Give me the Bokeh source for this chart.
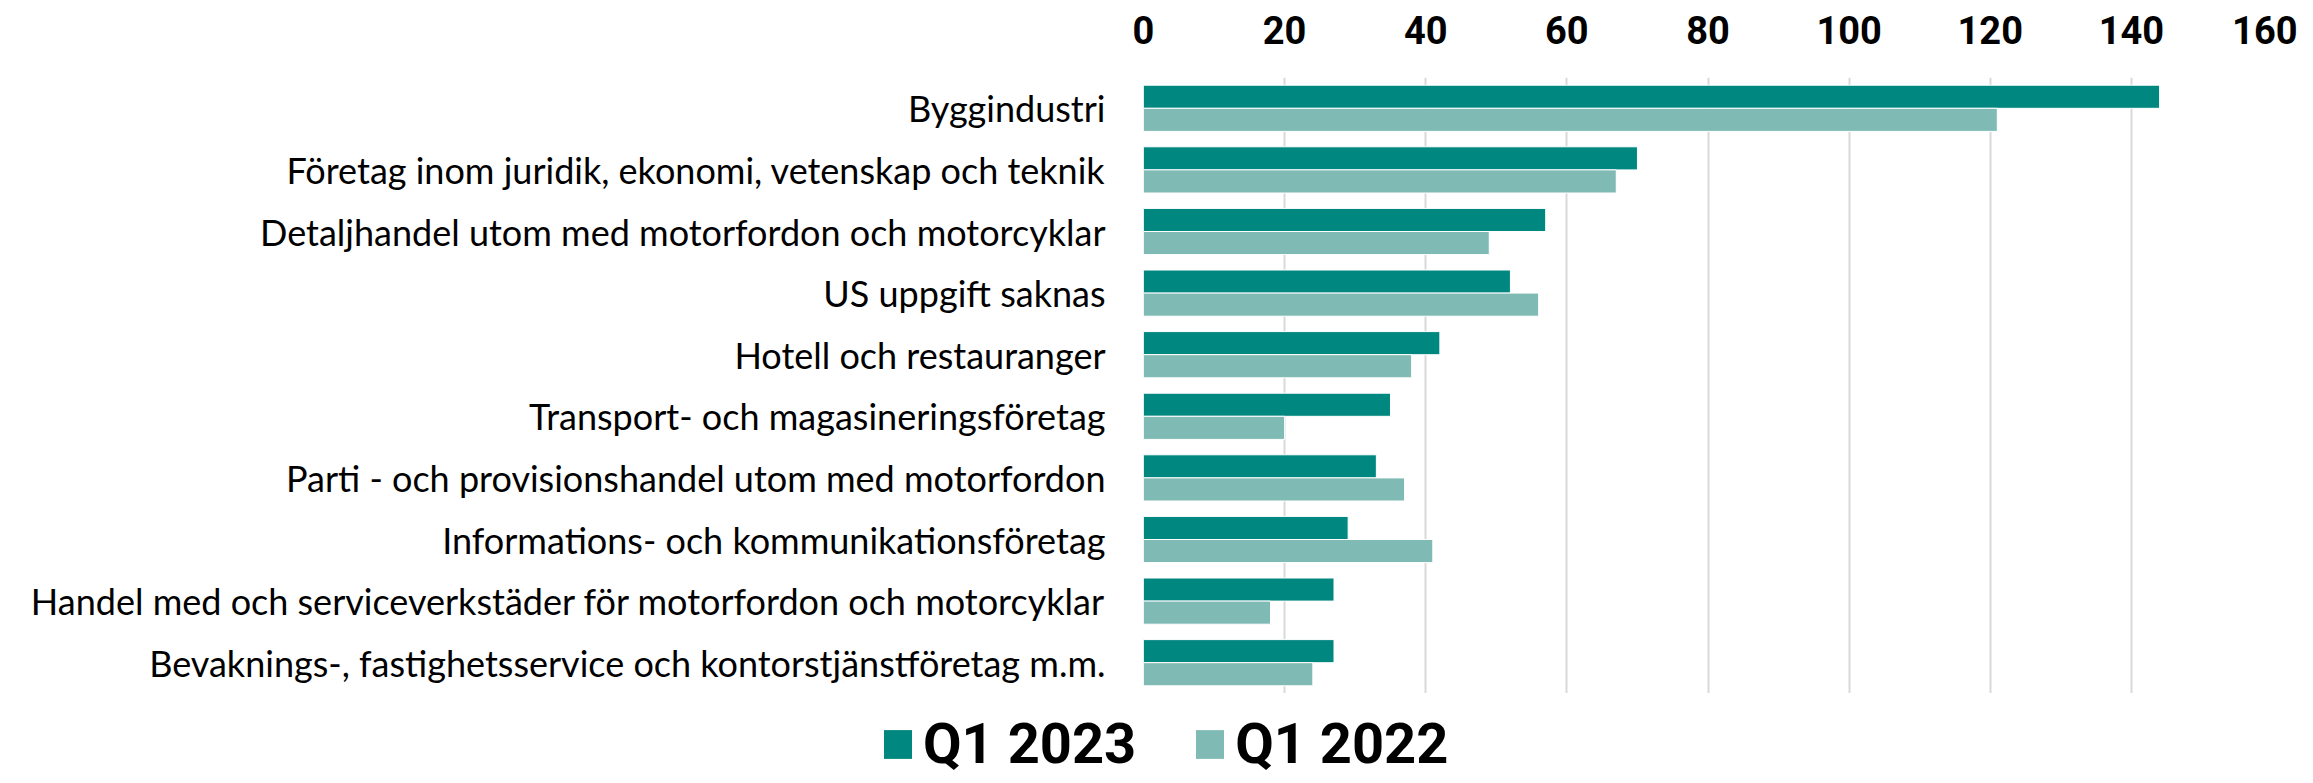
from bokeh.plotting import figure
from bokeh.layouts import column
from bokeh.models import (ColumnDataSource, FactorRange, Range1d, SingleIntervalTicker,
                          Legend, LegendItem)
from bokeh.transform import dodge
from bokeh.embed import file_html
from bokeh.resources import INLINE

categories = [
    "Byggindustri",
    "Företag inom juridik, ekonomi, vetenskap och teknik",
    "Detaljhandel utom med motorfordon och motorcyklar",
    "US uppgift saknas",
    "Hotell och restauranger",
    "Transport- och magasineringsföretag",
    "Parti - och provisionshandel utom med motorfordon",
    "Informations- och kommunikationsföretag",
    "Handel med och serviceverkstäder för motorfordon och motorcyklar",
    "Bevaknings-, fastighetsservice och kontorstjänstföretag m.m.",
]
q1_2023 = [144, 70, 57, 52, 42, 35, 33, 29, 27, 27]
q1_2022 = [121, 67, 49, 56, 38, 20, 37, 41, 18, 24]
series_names = ["Q1 2023", "Q1 2022"]
colors = ["#00877F", "#80BAB4"]

src = ColumnDataSource(dict(cat=categories, a=q1_2023, b=q1_2022))
bh = 0.375

# ---- main chart ----
p = figure(
    y_range=FactorRange(factors=list(reversed(categories))),
    x_range=Range1d(0, 160),
    x_axis_location="above",
    frame_width=1129, frame_height=616,
    min_border_left=1143, min_border_right=25,
    min_border_top=77, min_border_bottom=0,
    output_backend="svg", toolbar_location=None,
)

p.hbar(y=dodge("cat", bh / 2, range=p.y_range), right="a", left=0, height=bh,
       source=src, fill_color=colors[0], line_color="#ffffff", line_width=1)
p.hbar(y=dodge("cat", -bh / 2, range=p.y_range), right="b", left=0, height=bh,
       source=src, fill_color=colors[1], line_color="#ffffff", line_width=1)

p.outline_line_color = None
p.background_fill_color = "white"
p.border_fill_color = "white"

p.xaxis.ticker = SingleIntervalTicker(interval=20)
p.xaxis.axis_line_color = None
p.xaxis.major_tick_line_color = None
p.xaxis.minor_tick_line_color = None
p.xaxis.major_label_text_font = "Roboto"
p.xaxis.major_label_text_font_style = "bold"
p.xaxis.major_label_text_font_size = "38px"
p.xaxis.major_label_text_color = "#000000"
p.xaxis.major_label_standoff = 28

p.yaxis.axis_line_color = None
p.yaxis.major_tick_line_color = None
p.yaxis.minor_tick_line_color = None
p.yaxis.major_label_text_font = "Lato"
p.yaxis.major_label_text_font_size = "36px"
p.yaxis.major_label_text_color = "#000000"
p.yaxis.major_label_standoff = 32

p.xgrid.ticker = SingleIntervalTicker(interval=20)
p.xgrid.grid_line_color = "#d9d9d9"
p.xgrid.grid_line_width = 2
p.ygrid.grid_line_color = None

# ---- legend strip (bars drawn outside its visible x range) ----
lf = figure(
    y_range=FactorRange(factors=list(reversed(categories))),
    x_range=Range1d(-10, -5),
    x_axis_location=None, y_axis_location=None,
    width=2297, height=84,
    min_border=0,
    output_backend="svg", toolbar_location=None,
)
lr1 = lf.hbar(y=dodge("cat", bh / 2, range=lf.y_range), right="a", left=0, height=bh,
              source=src, fill_color=colors[0], line_color=None)
lr2 = lf.hbar(y=dodge("cat", -bh / 2, range=lf.y_range), right="b", left=0, height=bh,
              source=src, fill_color=colors[1], line_color=None)
lf.grid.visible = False
lf.outline_line_color = None
lf.background_fill_color = "white"
lf.border_fill_color = "white"

# keep the legend strip's frame independent of the main chart's frame
for fig in (p, lf):
    if "frame_align" in fig.properties():
        fig.frame_align = False

legend = Legend(
    items=[LegendItem(label=series_names[0], renderers=[lr1]),
           LegendItem(label=series_names[1], renderers=[lr2])],
    orientation="horizontal",
    location=(880, 0),
    label_text_font="Roboto", label_text_font_style="bold",
    label_text_font_size="56px", label_text_color="#000000",
    label_height=40,
    glyph_width=35, glyph_height=36, label_standoff=8, spacing=56,
    padding=0, margin=0, border_line_color=None, background_fill_alpha=0,
)
lf.add_layout(legend, "center")

layout = column(p, lf, spacing=0)
open("out.html", "w").write(file_html(layout, INLINE))
